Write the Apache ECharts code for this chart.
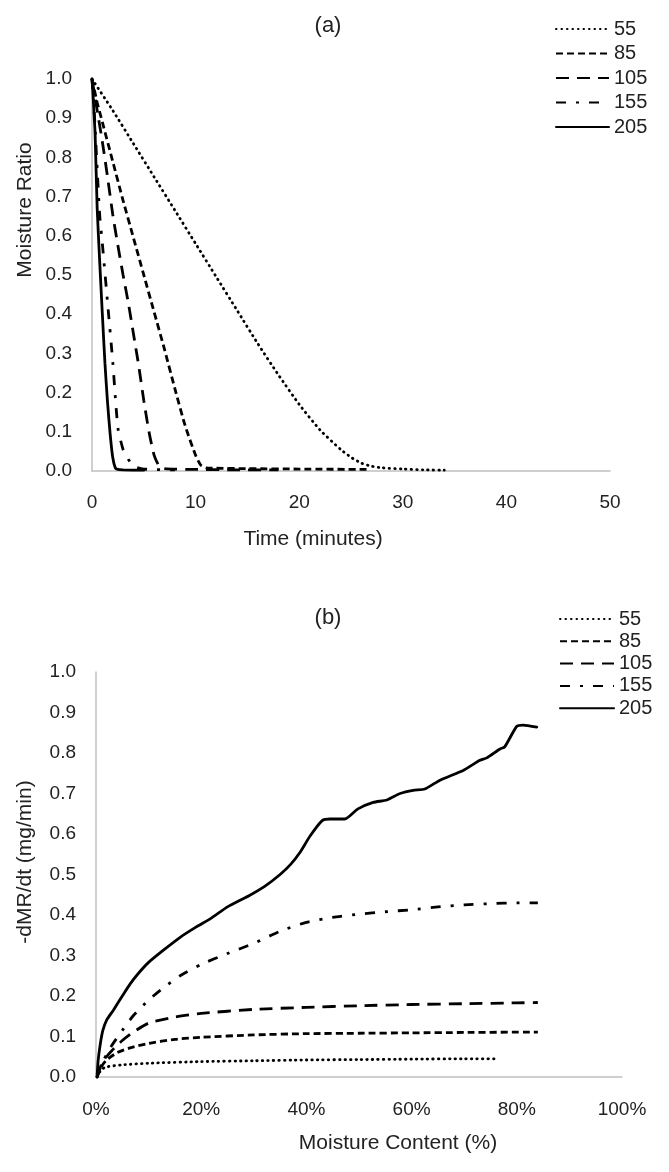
<!DOCTYPE html>
<html>
<head>
<meta charset="utf-8">
<script src="https://cdn.jsdelivr.net/npm/echarts@6/dist/echarts.min.js"></script>
<style>
html,body{margin:0;padding:0;background:#fff;}
#c{width:669px;height:1172px;}
</style>
</head>
<body>
<div id="c"></div>
<script>
// ---- Chart (a): Moisture Ratio vs Time (minutes) ----
const seriesNames = ['55', '85', '105', '155', '205'];

const t55  = [0, 2, 4, 6, 8, 10, 12, 14, 16, 18, 20, 22, 24, 25, 26, 27, 28, 30, 32, 34];
const mr55 = [1.0, 0.92, 0.835, 0.75, 0.665, 0.58, 0.495, 0.41, 0.325, 0.245, 0.17, 0.105, 0.055, 0.035, 0.02, 0.012, 0.008, 0.005, 0.003, 0.002];

const t85  = [0, 0.5, 1, 2, 3, 4, 5, 6, 7, 8, 9, 10, 10.5, 11, 12, 15, 20, 26.5];
const mr85 = [1.0, 0.94, 0.89, 0.79, 0.69, 0.595, 0.5, 0.405, 0.31, 0.21, 0.115, 0.04, 0.015, 0.008, 0.007, 0.006, 0.005, 0.004];

const t105  = [0, 0.5, 1, 1.5, 2, 2.5, 3, 3.5, 4, 4.5, 5, 5.5, 6, 6.5, 7, 10, 14, 18];
const mr105 = [1.0, 0.92, 0.84, 0.75, 0.655, 0.575, 0.5, 0.43, 0.35, 0.27, 0.18, 0.1, 0.04, 0.012, 0.006, 0.004, 0.003, 0.003];

const t155  = [0, 0.25, 0.5, 0.75, 1, 1.5, 2, 2.5, 3, 3.5, 4, 5, 8];
const mr155 = [1.0, 0.9, 0.77, 0.65, 0.58, 0.43, 0.28, 0.11, 0.055, 0.03, 0.012, 0.005, 0.003];

const t205  = [0, 0.1, 0.2, 0.3, 0.5, 0.75, 1.0, 1.25, 1.5, 1.75, 2.0, 2.25, 2.5, 3, 5];
const mr205 = [1.0, 0.96, 0.91, 0.86, 0.67, 0.53, 0.40, 0.275, 0.175, 0.095, 0.035, 0.008, 0.004, 0.003, 0.002];

// ---- Chart (b): -dMR/dt vs Moisture Content ----
const mc55   = [0.002, 0.01, 0.02, 0.05, 0.1, 0.2, 0.3, 0.4, 0.5, 0.6, 0.7, 0.76];
const rate55 = [0, 0.018, 0.025, 0.03, 0.034, 0.038, 0.04, 0.042, 0.043, 0.044, 0.045, 0.045];

const mc85   = [0.002, 0.01, 0.02, 0.04, 0.065, 0.1, 0.15, 0.2, 0.3, 0.4, 0.5, 0.6, 0.7, 0.84];
const rate85 = [0, 0.025, 0.042, 0.06, 0.072, 0.083, 0.093, 0.098, 0.104, 0.107, 0.108, 0.109, 0.11, 0.111];

const mc105   = [0.002, 0.01, 0.02, 0.03, 0.05, 0.07, 0.1, 0.15, 0.2, 0.3, 0.4, 0.5, 0.6, 0.7, 0.8, 0.84];
const rate105 = [0, 0.03, 0.05, 0.065, 0.09, 0.11, 0.133, 0.148, 0.157, 0.167, 0.172, 0.176, 0.179, 0.181, 0.183, 0.184];

const mc155   = [0.002, 0.01, 0.02, 0.03, 0.05, 0.07, 0.1, 0.13, 0.16, 0.2, 0.25, 0.3, 0.35, 0.4, 0.45, 0.5, 0.55, 0.6, 0.65, 0.7, 0.75, 0.8, 0.84];
const rate155 = [0, 0.03, 0.055, 0.078, 0.115, 0.15, 0.19, 0.222, 0.25, 0.278, 0.305, 0.33, 0.36, 0.382, 0.394, 0.402, 0.408, 0.413, 0.42, 0.425, 0.428, 0.43, 0.43];

const mc205   = [0.002, 0.004, 0.008, 0.013, 0.02, 0.033, 0.05, 0.065, 0.08, 0.1, 0.13, 0.16, 0.19, 0.22, 0.25, 0.29, 0.32, 0.35, 0.37, 0.388, 0.407, 0.43, 0.445, 0.473, 0.498, 0.527, 0.553, 0.578, 0.603, 0.625, 0.654, 0.698, 0.73, 0.743, 0.768, 0.777, 0.80, 0.812, 0.838];
const rate205 = [0, 0.04, 0.08, 0.115, 0.14, 0.165, 0.2, 0.23, 0.255, 0.283, 0.315, 0.345, 0.37, 0.393, 0.42, 0.447, 0.47, 0.5, 0.525, 0.555, 0.595, 0.633, 0.637, 0.637, 0.662, 0.678, 0.684, 0.7, 0.708, 0.711, 0.733, 0.757, 0.782, 0.788, 0.81, 0.815, 0.866, 0.869, 0.864];

function zip(xs, ys) { return xs.map((x, i) => [x, ys[i]]); }

const dataA = [zip(t55, mr55), zip(t85, mr85), zip(t105, mr105), zip(t155, mr155), zip(t205, mr205)];
const dataB = [zip(mc55, rate55), zip(mc85, rate85), zip(mc105, rate105), zip(mc155, rate155), zip(mc205, rate205)];

const dashTypes = [[0.5, 5], [7, 4], [13, 8], [10, 10, 3, 10], 'solid'];
const caps = ['round', 'butt', 'butt', 'butt', 'round'];
const widths = [2.8, 2.8, 2.8, 2.8, 2.8];

const FONT = 'Liberation Sans, Arial, sans-serif';
const TXT = '#222';
const AXC = '#c0c0c0';

function mkSeries(data, gi) {
  return data.map((d, i) => ({
    name: seriesNames[i],
    type: 'line',
    xAxisIndex: gi, yAxisIndex: gi,
    data: d,
    symbol: 'none',
    smooth: 0.2,
    clip: false,
    lineStyle: { color: '#000', width: widths[i], type: dashTypes[i], cap: caps[i] },
    itemStyle: { color: '#000' },
    emphasis: { disabled: true },
    z: 3
  }));
}

const chart = echarts.init(document.getElementById('c'), null, { renderer: 'canvas' });

const lblStyle = { color: TXT, fontFamily: FONT, fontSize: 19 };
const axisCommon = {
  axisLine: { show: true, lineStyle: { color: AXC, width: 1.5 } },
  axisTick: { show: false },
  splitLine: { show: false }
};

const legendCommon = {
  orient: 'vertical', itemWidth: 53, itemHeight: 14, padding: 0,
  data: seriesNames, selectedMode: false,
  itemStyle: { opacity: 0 },
  textStyle: { color: TXT, fontFamily: FONT, fontSize: 20 }
};

chart.setOption({
  animation: false,
  backgroundColor: '#fff',
  textStyle: { fontFamily: FONT },
  grid: [
    { left: 92, top: 79, width: 518, height: 392 },
    { left: 96, top: 672, width: 526, height: 405 }
  ],
  xAxis: [
    Object.assign({}, axisCommon, {
      gridIndex: 0, type: 'value', min: 0, max: 50, interval: 10,
      axisLabel: Object.assign({}, lblStyle, { margin: 22 })
    }),
    Object.assign({}, axisCommon, {
      gridIndex: 1, type: 'value', min: 0, max: 1, interval: 0.2,
      axisLabel: Object.assign({}, lblStyle, { margin: 23, formatter: v => Math.round(v * 100) + '%' })
    })
  ],
  yAxis: [
    Object.assign({}, axisCommon, {
      gridIndex: 0, type: 'value', min: 0, max: 1, interval: 0.1,
      axisLabel: Object.assign({}, lblStyle, { margin: 20, formatter: v => v.toFixed(1) })
    }),
    Object.assign({}, axisCommon, {
      gridIndex: 1, type: 'value', min: 0, max: 1, interval: 0.1,
      axisLabel: Object.assign({}, lblStyle, { margin: 20, formatter: v => v.toFixed(1) })
    })
  ],
  legend: [
    Object.assign({}, legendCommon, { left: 555, top: 19, itemGap: 4.5 }),
    Object.assign({}, legendCommon, { left: 559, top: 609, itemGap: 2.3, itemWidth: 54 })
  ],
  graphic: [
    { type: 'text', x: 328, y: 26, style: { text: '(a)', fill: TXT, font: '22px ' + FONT, textAlign: 'center', textVerticalAlign: 'middle' } },
    { type: 'text', x: 328, y: 618, style: { text: '(b)', fill: TXT, font: '22px ' + FONT, textAlign: 'center', textVerticalAlign: 'middle' } },
    { type: 'text', x: 313, y: 539, style: { text: 'Time (minutes)', fill: TXT, font: '21px ' + FONT, textAlign: 'center', textVerticalAlign: 'middle' } },
    { type: 'text', x: 398, y: 1143, style: { text: 'Moisture Content (%)', fill: TXT, font: '21px ' + FONT, textAlign: 'center', textVerticalAlign: 'middle' } },
    { type: 'text', x: 25, y: 210, rotation: Math.PI / 2, style: { text: 'Moisture Ratio', fill: TXT, font: '21px ' + FONT, textAlign: 'center', textVerticalAlign: 'middle' } },
    { type: 'text', x: 25, y: 862, rotation: Math.PI / 2, style: { text: '-dMR/dt (mg/min)', fill: TXT, font: '21px ' + FONT, textAlign: 'center', textVerticalAlign: 'middle' } }
  ],
  series: mkSeries(dataA, 0).concat(mkSeries(dataB, 1))
});
</script>
</body>
</html>
